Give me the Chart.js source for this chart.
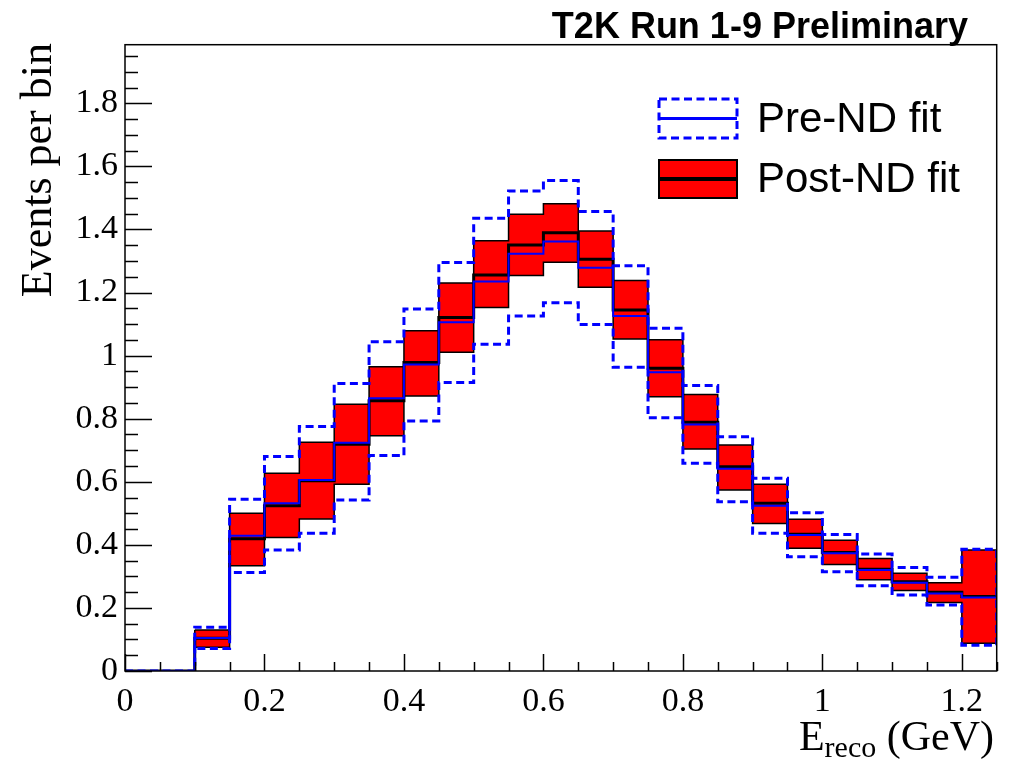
<!DOCTYPE html>
<html>
<head>
<meta charset="utf-8">
<title>T2K Run 1-9 Preliminary</title>
<script src="https://cdn.jsdelivr.net/npm/chart.js@4.4.1/dist/chart.umd.min.js"></script>
<style>
  html, body { margin: 0; padding: 0; background: #ffffff; }
  #wrap { position: relative; width: 1011px; height: 764px; }
</style>
</head>
<body>
<div id="wrap"><canvas id="chart"></canvas></div>
<script>
// Reconstructed-energy binning (GeV): lower edges of 25 bins, 0.05 wide
const binWidth = 0.05;
const binLowEdges = [0.00, 0.05, 0.10, 0.15, 0.20, 0.25, 0.30, 0.35, 0.40, 0.45,
                     0.50, 0.55, 0.60, 0.65, 0.70, 0.75, 0.80, 0.85, 0.90, 0.95,
                     1.00, 1.05, 1.10, 1.15, 1.20];

// Post-ND fit prediction: central value and 1-sigma band
const postCentral = [0, 0, 0.104, 0.419, 0.524, 0.603, 0.719, 0.857, 0.978, 1.121,
                     1.256, 1.351, 1.390, 1.306, 1.145, 0.960, 0.789, 0.648, 0.532, 0.434,
                     0.376, 0.323, 0.283, 0.250, 0.236];
const postUpper   = [0, 0, 0.130, 0.500, 0.627, 0.725, 0.846, 0.965, 1.079, 1.230,
                     1.364, 1.448, 1.482, 1.395, 1.238, 1.050, 0.877, 0.717, 0.592, 0.481,
                     0.415, 0.357, 0.310, 0.280, 0.384];
const postLower   = [0, 0, 0.075, 0.334, 0.423, 0.482, 0.592, 0.746, 0.872, 1.011,
                     1.153, 1.254, 1.296, 1.217, 1.053, 0.870, 0.704, 0.574, 0.468, 0.389,
                     0.338, 0.289, 0.255, 0.217, 0.088];

// Pre-ND fit prediction: central value and 1-sigma band
const preCentral  = [0, 0, 0.105, 0.429, 0.532, 0.606, 0.724, 0.865, 0.972, 1.106,
                     1.235, 1.323, 1.362, 1.279, 1.126, 0.947, 0.782, 0.641, 0.524, 0.431,
                     0.373, 0.320, 0.280, 0.246, 0.233];
const preUpper    = [0, 0, 0.139, 0.545, 0.680, 0.775, 0.912, 1.044, 1.148, 1.295,
                     1.436, 1.522, 1.555, 1.457, 1.285, 1.087, 0.905, 0.743, 0.611, 0.502,
                     0.433, 0.371, 0.328, 0.297, 0.386];
const preLower    = [0, 0, 0.071, 0.312, 0.384, 0.437, 0.542, 0.683, 0.793, 0.915,
                     1.036, 1.126, 1.168, 1.099, 0.963, 0.803, 0.659, 0.537, 0.437, 0.362,
                     0.315, 0.270, 0.241, 0.209, 0.082];

// Axis ranges and labelled tick values
const xRange = [0, 1.25];
const yRange = [0, 1.986];
const xTickLabels = [0, 0.2, 0.4, 0.6, 0.8, 1, 1.2];
const yTickLabels = [0, 0.2, 0.4, 0.6, 0.8, 1, 1.2, 1.4, 1.6, 1.8];

const nBins = binLowEdges.length;
const edge = i => (i < nBins ? binLowEdges[i] : binLowEdges[nBins - 1] + binWidth);

// Histogram outline: flat top across each bin, vertical steps between bins
function stepPoints(values) {
  const pts = [];
  values.forEach((v, i) => { pts.push({x: edge(i), y: v}); pts.push({x: edge(i + 1), y: v}); });
  return pts;
}

// Contour of an error band: upper steps left->right, lower steps right->left
function bandContour(upper, lower, closed) {
  const firstLow = upper.findIndex((v, i) => v > 0 || lower[i] > 0);
  const first = closed ? firstLow : 0;
  const pts = [];
  for (let i = first; i < nBins; i++) { pts.push({x: edge(i), y: upper[i]}); pts.push({x: edge(i + 1), y: upper[i]}); }
  for (let i = nBins - 1; i >= firstLow; i--) { pts.push({x: edge(i + 1), y: lower[i]}); pts.push({x: edge(i), y: lower[i]}); }
  if (closed) pts.push({...pts[0]});
  return pts;
}

const serif = "'Liberation Serif', 'Times New Roman', serif";
const sans = "'Liberation Sans', Arial, sans-serif";
const fmt = v => String(Number(v.toFixed(2)));

// Frame, inward tick marks, titles and legend
const decorations = {
  id: 'decorations',
  afterDatasetsDraw(chart) {
    const {ctx, chartArea: a, scales: {x, y}} = chart;
    ctx.save();
    ctx.strokeStyle = '#000';
    ctx.lineWidth = 1.5;
    ctx.beginPath();
    for (let k = 0; k * 0.05 <= yRange[1] + 1e-9; k++) {
      const py = Math.round(y.getPixelForValue(k * 0.05)) + 0.5;
      const len = (k % 4 === 0) ? 27 : 13;
      ctx.moveTo(a.left, py); ctx.lineTo(a.left + len, py);
    }
    for (let k = 0; k * 0.05 <= xRange[1] + 1e-9; k++) {
      const px = Math.round(x.getPixelForValue(k * 0.05)) + 0.5;
      const len = (k % 4 === 0) ? 17 : 9;
      ctx.moveTo(px, a.bottom); ctx.lineTo(px, a.bottom - len);
    }
    ctx.stroke();
    ctx.strokeRect(a.left, a.top, a.right - a.left, a.bottom - a.top);
    ctx.restore();
  },
  afterDraw(chart) {
    const {ctx} = chart;
    ctx.save();
    ctx.fillStyle = '#000';

    // plot title
    ctx.font = 'bold 36px ' + sans;
    ctx.textAlign = 'right';
    ctx.textBaseline = 'alphabetic';
    ctx.fillText('T2K Run 1-9 Preliminary', 968, 38);

    // y-axis title
    ctx.save();
    ctx.translate(51, 43);
    ctx.rotate(-Math.PI / 2);
    ctx.font = '44px ' + serif;
    ctx.textAlign = 'right';
    ctx.fillText('Events per bin', 0, 0);
    ctx.restore();

    // x-axis title with subscript
    ctx.textAlign = 'left';
    const big = '42px ' + serif, small = '30px ' + serif;
    ctx.font = big; const wE = ctx.measureText('E').width; const wU = ctx.measureText(' (GeV)').width;
    ctx.font = small; const wS = ctx.measureText('reco').width;
    let tx = 994 - (wE + wS + wU);
    ctx.font = big; ctx.fillText('E', tx, 750); tx += wE;
    ctx.font = small; ctx.fillText('reco', tx, 757); tx += wS;
    ctx.font = big; ctx.fillText(' (GeV)', tx, 750);

    // legend: Pre-ND fit
    ctx.lineWidth = 3;
    ctx.strokeStyle = '#0000ff';
    ctx.setLineDash([8, 4.5]);
    ctx.strokeRect(659, 99, 78, 39);
    ctx.setLineDash([]);
    ctx.beginPath(); ctx.moveTo(659, 118.5); ctx.lineTo(737, 118.5); ctx.stroke();

    // legend: Post-ND fit
    ctx.fillStyle = '#ff0000';
    ctx.fillRect(659, 160, 78, 38);
    ctx.strokeStyle = '#000';
    ctx.lineWidth = 2;
    ctx.strokeRect(659, 160, 78, 38);
    ctx.lineWidth = 4;
    ctx.beginPath(); ctx.moveTo(659, 179); ctx.lineTo(737, 179); ctx.stroke();

    ctx.fillStyle = '#000';
    ctx.font = '42px ' + sans;
    ctx.fillText('Pre-ND fit', 757, 132);
    ctx.fillText('Post-ND fit', 757, 192);
    ctx.restore();
  }
};

const noLine = {pointRadius: 0, pointHoverRadius: 0, tension: 0};

new Chart(document.getElementById('chart'), {
  type: 'line',
  data: {
    datasets: [
      {label: 'Pre-ND fit', data: stepPoints(preCentral), borderColor: '#0000ff', borderWidth: 2, fill: false, ...noLine},
      {label: 'Pre-ND fit band', data: bandContour(preUpper, preLower, false), borderColor: '#0000ff',
       borderWidth: 3, borderDash: [8, 4.5], fill: false, ...noLine},
      {label: 'Post-ND fit', data: stepPoints(postCentral), borderColor: '#000000', borderWidth: 3, fill: false, ...noLine},
      {label: 'Post-ND fit band', data: bandContour(postUpper, postLower, true), borderColor: '#000000',
       borderWidth: 1.5, backgroundColor: '#ff0000', fill: 'shape', ...noLine}
    ]
  },
  options: {
    responsive: true,
    maintainAspectRatio: false,
    animation: false,
    events: [],
    layout: {padding: {left: 0, right: 14.3, top: 44.7, bottom: 0}},
    plugins: {legend: {display: false}, tooltip: {enabled: false}},
    scales: {
      x: {
        type: 'linear', min: xRange[0], max: xRange[1], bounds: 'data',
        afterFit: s => { s.height = 93; },
        afterBuildTicks: s => { s.ticks = xTickLabels.map(v => ({value: v})); },
        grid: {display: false, drawTicks: false},
        border: {display: false},
        ticks: {stepSize: 0.2, includeBounds: false, maxRotation: 0, autoSkip: false, padding: 11,
                color: '#000', font: {family: serif, size: 34}, callback: v => fmt(v)}
      },
      y: {
        type: 'linear', min: yRange[0], max: yRange[1], bounds: 'data',
        afterFit: s => { s.width = 125; },
        afterBuildTicks: s => { s.ticks = yTickLabels.map(v => ({value: v})); },
        grid: {display: false, drawTicks: false},
        border: {display: false},
        ticks: {stepSize: 0.2, includeBounds: false, autoSkip: false, padding: 7,
                color: '#000', font: {family: serif, size: 34}, callback: v => fmt(v)}
      }
    }
  },
  plugins: [decorations]
});
</script>
</body>
</html>
